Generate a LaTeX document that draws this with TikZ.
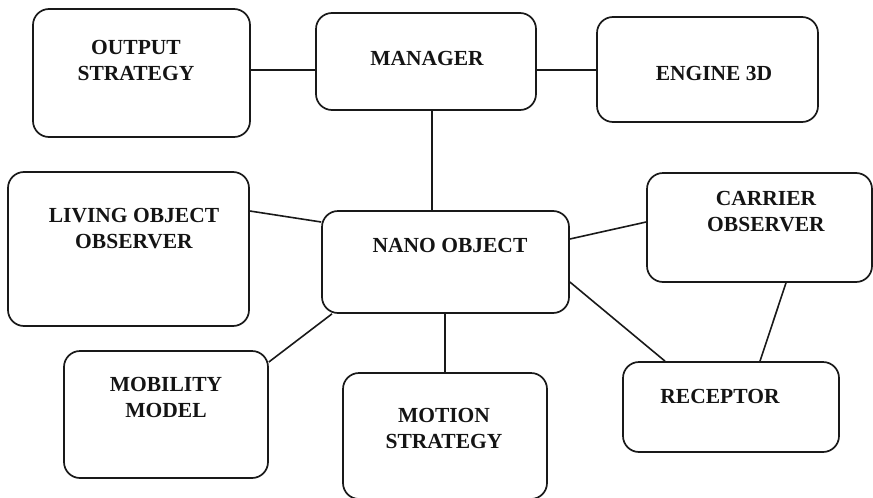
\documentclass[tikz,border=0pt]{standalone}
\usepackage{fontspec}
\setmainfont{Liberation Serif}
\begin{document}
\begin{tikzpicture}[x=1pt,y=-1pt,
  box/.style={draw=black!90,line width=1.7pt,rounded corners=16pt,fill=none,inner sep=0pt},
  lbl/.style={anchor=base,align=center,inner sep=0pt,font=\fontsize{21.5}{25.5}\selectfont\bfseries,text=black!92},
  link/.style={draw=black!90,line width=1.6pt}]
\useasboundingbox (0,0) rectangle (873,498);

% component boxes
\node[box,minimum width=217,minimum height=128] (output)   at (141.5,73)  {};
\node[box,minimum width=220,minimum height=97]  (manager)  at (426,61.5)  {};
\node[box,minimum width=221,minimum height=105] (engine)   at (707.5,69.5){};
\node[box,minimum width=241,minimum height=154] (living)   at (128.5,249) {};
\node[box,minimum width=247,minimum height=102] (nano)     at (445.5,262) {};
\node[box,minimum width=225,minimum height=109] (carrier)  at (759.5,227.5){};
\node[box,minimum width=204,minimum height=127] (mobility) at (166,414.5) {};
\node[box,minimum width=204,minimum height=126] (motion)   at (445,436)   {};
\node[box,minimum width=216,minimum height=90]  (receptor) at (731,407)   {};

% labels (the base anchor of a two-line label sits on its last line)
\node[lbl] (outputtxt)   at (136,80)  {OUTPUT\\STRATEGY};
\node[lbl] (managertxt)  at (427,65)  {MANAGER};
\node[lbl] (enginetxt)   at (714,80)  {ENGINE 3D};
\node[lbl] (livingtxt)   at (134,248) {LIVING OBJECT\\OBSERVER};
\node[lbl] (nanotxt)     at (450,252) {NANO OBJECT};
\node[lbl] (carriertxt)  at (766,231) {CARRIER\\OBSERVER};
\node[lbl] (mobilitytxt) at (166,417) {MOBILITY\\MODEL};
\node[lbl] (motiontxt)   at (444,448) {MOTION\\STRATEGY};
\node[lbl] (receptortxt) at (720,403) {RECEPTOR};

% connectors
\draw[link] ([yshift=3pt]output.east) -- ([yshift=3pt]output.east -| manager.west);
\draw[link] ([yshift=-0.5pt]engine.west) -- ([yshift=-0.5pt]engine.west -| manager.east);
\draw[link] ([xshift=6pt]manager.south) -- ([xshift=6pt]manager.south |- nano.north);
\draw[link] ([yshift=38pt]living.east) -- ([yshift=40pt]nano.west);
\draw[link] ([yshift=23pt]nano.east) -- ([yshift=5.5pt]carrier.west);
\draw[link] ([yshift=-20pt]nano.east) -- ([xshift=-66pt]receptor.north);
\draw[link] ([xshift=26.5pt]carrier.south) -- ([xshift=29pt]receptor.north);
\draw[link] ([yshift=52.5pt]mobility.east) -- ([xshift=-113.5pt]nano.south);
\draw[link] (motion.north) -- (motion.north |- nano.south);
\end{tikzpicture}
\end{document}
